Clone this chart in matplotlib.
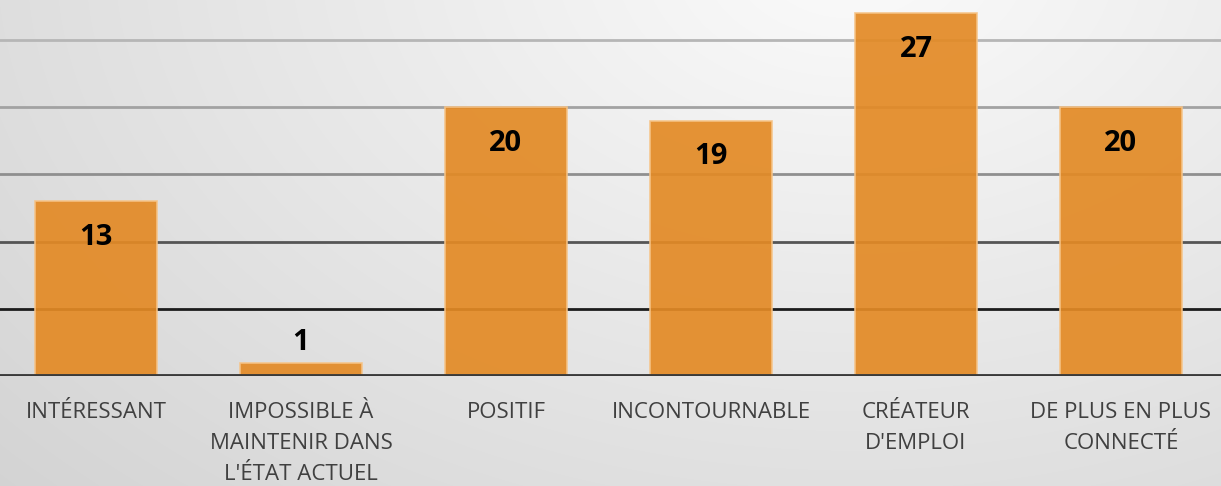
import numpy as np
import matplotlib
matplotlib.use("Agg")
import matplotlib.pyplot as plt

categories = ["INTÉRESSANT", "IMPOSSIBLE À\nMAINTENIR DANS\nL'ÉTAT ACTUEL", "POSITIF",
              "INCONTOURNABLE", "CRÉATEUR\nD'EMPLOI", "DE PLUS EN PLUS\nCONNECTÉ"]
values = [13, 1, 20, 19, 27, 20]
grid_ticks = [5, 10, 15, 20, 25]
grid_colors = ["#1c1c1c", "#555555", "#8f8f8f", "#a2a2a2", "#b6b6b6"]

W, H = 1221, 486
fig = plt.figure(figsize=(W / 100, H / 100), dpi=100)

# radial gradient background
bg = fig.add_axes([0, 0, 1, 1])
yy, xx = np.mgrid[0:H, 0:W]
d = np.sqrt(((xx - 850) / 1.0) ** 2 + ((yy + 40) * 1.5) ** 2)
v = 251 - 34 * np.clip(d / 1000, 0, 1.2)
img = np.dstack([v, v, v]) / 255.0
bg.imshow(img, extent=[0, 1, 0, 1], aspect="auto", origin="upper")
bg.axis("off")

bottom = (H - 376) / H
ax = fig.add_axes([0, bottom, 1, 1 - bottom])
ax.patch.set_alpha(0)
x = np.arange(len(categories))
ax.set_xlim(-96 / 205, (W - 96) / 205)
ax.set_ylim(0, 376 / 67.2 * 5)

for t, c in zip(grid_ticks, grid_colors):
    ax.axhline(t, color=c, lw=2, zorder=1)

bars = ax.bar(x, values, width=0.595, color="#E38A25", alpha=0.92,
              edgecolor="#F6C488", linewidth=1.2, zorder=2)
ax.axhline(0, color="#3a3a3a", lw=3.5, zorder=3)

for xi, v in zip(x, values):
    off = -36 if v >= 5 else 20
    ax.annotate(str(v), (xi, v), xytext=(0, off), textcoords="offset pixels",
                ha="center", va="center", fontsize=21, fontweight="bold",
                family="Open Sans", color="black", zorder=4)

for xi, lab in zip(x, categories):
    ax.annotate(lab, (xi, 0), xytext=(0, -26), textcoords="offset pixels",
                ha="center", va="top", fontsize=16, family="Open Sans",
                color="#404040", linespacing=1.62, annotation_clip=False)

ax.set_xticks([])
ax.set_yticks([])
for s in ax.spines.values():
    s.set_visible(False)

fig.savefig("out.png", dpi=100)
